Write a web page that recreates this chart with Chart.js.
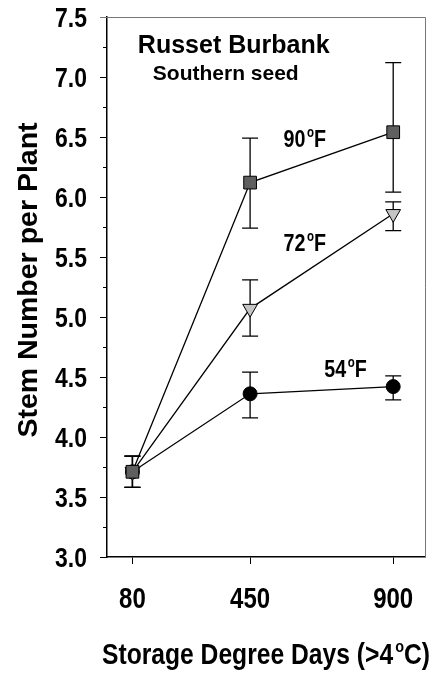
<!DOCTYPE html>
<html>
<head>
<meta charset="utf-8">
<script src="https://cdn.jsdelivr.net/npm/chart.js@4.4.0/dist/chart.umd.min.js"></script>
<style>
  html, body { margin: 0; padding: 0; background: #fff; }
  #wrap { width: 435px; height: 673px; }
</style>
</head>
<body>
<div id="wrap"><canvas id="chart"></canvas></div>
<script>
// storage degree days and mean stem number per plant
const degreeDays = [80, 450, 900];
const stems90 = [3.71, 6.12, 6.54];
const stems72 = [3.71, 5.07, 5.86];
const stems54 = [3.71, 4.36, 4.42];

// error bar ends
const low90 = [3.58, 5.74, 6.04];
const high90 = [3.84, 6.49, 7.12];
const low72 = [3.58, 4.84, 5.72];
const high72 = [3.84, 5.31, 5.96];
const low54 = [3.58, 4.16, 4.31];
const high54 = [3.84, 4.54, 4.51];

const xTicks = [80, 450, 900];

const SANS = "'Liberation Sans', Arial, sans-serif";
const SQUEEZE = 0.82; // no narrow face installed, so squeeze the bold sans

const isMajor = v => Math.abs(v * 2 - Math.round(v * 2)) < 1e-6;

// draws pieces of text side by side, squeezed horizontally
// piece = [text, size, raise]
function drawPieces(ctx, pieces, x, y, sx, align) {
  ctx.save();
  ctx.textAlign = 'left';
  ctx.textBaseline = 'alphabetic';
  const widths = pieces.map(([t, s]) => {
    ctx.font = `bold ${s}px ${SANS}`;
    return ctx.measureText(t).width;
  });
  const total = widths.reduce((a, b) => a + b, 0) * sx;
  const left = align === 'right' ? x - total : align === 'center' ? x - total / 2 : x;
  ctx.translate(left, y);
  ctx.scale(sx, 1);
  let cx = 0;
  pieces.forEach(([t, s, raise], i) => {
    ctx.font = `bold ${s}px ${SANS}`;
    ctx.fillText(t, cx, -(raise || 0));
    cx += widths[i];
  });
  ctx.restore();
}

function degPieces(before, after, size) {
  return [[before + '\u200a', size, 0], ['o', Math.round(size * 0.6), size * 0.43], [after, size, 0]];
}

const extras = {
  id: 'extras',
  beforeDatasetsDraw(chart) {
    const { ctx, scales: { x, y } } = chart;
    const sets = [[low54, high54], [low72, high72], [low90, high90]];
    ctx.save();
    ctx.strokeStyle = '#000';
    ctx.lineWidth = 1.3;
    sets.forEach(([lo, hi]) => {
      degreeDays.forEach((d, i) => {
        const px = x.getPixelForValue(d);
        const y1 = y.getPixelForValue(lo[i]);
        const y2 = y.getPixelForValue(hi[i]);
        ctx.beginPath();
        ctx.moveTo(px, y1); ctx.lineTo(px, y2);
        ctx.moveTo(px - 8, y1); ctx.lineTo(px + 8, y1);
        ctx.moveTo(px - 8, y2); ctx.lineTo(px + 8, y2);
        ctx.stroke();
      });
    });
    ctx.restore();
  },
  afterDraw(chart) {
    const { ctx, chartArea: a, scales: { x, y } } = chart;
    ctx.save();
    // top and right frame
    ctx.strokeStyle = '#777';
    ctx.lineWidth = 1;
    ctx.beginPath();
    ctx.moveTo(a.left - 7, a.top + 0.5); ctx.lineTo(a.right + 0.5, a.top + 0.5);
    ctx.lineTo(a.right + 0.5, a.bottom);
    ctx.stroke();
    // minor ticks on the y axis
    ctx.strokeStyle = '#000';
    ctx.beginPath();
    y.ticks.forEach(t => {
      if (!isMajor(t.value)) {
        const py = Math.round(y.getPixelForValue(t.value)) + 0.5;
        ctx.moveTo(a.left - 4, py); ctx.lineTo(a.left, py);
      }
    });
    ctx.stroke();
    ctx.fillStyle = '#000';

    // tick labels
    y.ticks.forEach(t => {
      if (isMajor(t.value)) {
        drawPieces(ctx, [[t.value.toFixed(1), 28, 0]], a.left - 20, y.getPixelForValue(t.value) + 10, SQUEEZE, 'right');
      }
    });
    x.ticks.forEach(t => {
      drawPieces(ctx, [[String(t.value), 30, 0]], x.getPixelForValue(t.value), a.bottom + 51, 0.8, 'center');
    });

    // axis titles
    drawPieces(ctx, degPieces('Storage Degree Days (>4', 'C)', 29), (a.left + a.right) / 2, a.bottom + 107, 0.85, 'center');
    ctx.save();
    ctx.translate(37, 280);
    ctx.rotate(-Math.PI / 2);
    drawPieces(ctx, [['Stem Number per Plant', 28.5, 0]], 0, 0, 1, 'center');
    ctx.restore();

    // labels inside the plot
    drawPieces(ctx, [['Russet Burbank', 25, 0]], x.getPixelForValue(97), y.getPixelForValue(7.2), 1, 'left');
    drawPieces(ctx, [['Southern seed', 21, 0]], x.getPixelForValue(144), y.getPixelForValue(6.975), 1, 'left');
    drawPieces(ctx, degPieces('90', 'F', 24), x.getPixelForValue(555), y.getPixelForValue(6.417), SQUEEZE, 'left');
    drawPieces(ctx, degPieces('72', 'F', 24), x.getPixelForValue(555), y.getPixelForValue(5.55), SQUEEZE, 'left');
    drawPieces(ctx, degPieces('54', 'F', 24), x.getPixelForValue(683), y.getPixelForValue(4.50), SQUEEZE, 'left');
    ctx.restore();
  }
};

new Chart(document.getElementById('chart'), {
  type: 'scatter',
  data: {
    datasets: [
      {
        label: '90°F',
        data: degreeDays.map((d, i) => ({ x: d, y: stems90[i] })),
        showLine: true,
        borderColor: '#000',
        borderWidth: 1.3,
        pointStyle: 'rect',
        pointRadius: 9,
        pointBackgroundColor: '#5f5f5f',
        pointBorderColor: '#000',
        pointBorderWidth: 1
      },
      {
        label: '72°F',
        data: degreeDays.map((d, i) => ({ x: d, y: stems72[i] })),
        showLine: true,
        borderColor: '#000',
        borderWidth: 1.3,
        pointStyle: 'triangle',
        rotation: 180,
        pointRadius: 8.5,
        pointBackgroundColor: '#c4c4c4',
        pointBorderColor: '#000',
        pointBorderWidth: 1
      },
      {
        label: '54°F',
        data: degreeDays.map((d, i) => ({ x: d, y: stems54[i] })),
        showLine: true,
        borderColor: '#000',
        borderWidth: 1.3,
        pointStyle: 'circle',
        pointRadius: 7,
        pointBackgroundColor: '#000',
        pointBorderColor: '#000',
        pointBorderWidth: 1
      }
    ]
  },
  options: {
    responsive: true,
    maintainAspectRatio: false,
    animation: false,
    layout: { padding: { top: 17, right: 9, left: 0, bottom: 0 } },
    plugins: {
      legend: { display: false },
      tooltip: { enabled: false }
    },
    scales: {
      x: {
        type: 'linear',
        min: 0,
        max: 1000,
        afterFit: s => { s.height = 116; s.paddingLeft = 0; s.paddingRight = 0; },
        afterBuildTicks: s => { s.ticks = xTicks.map(v => ({ value: v })); },
        border: { color: '#000', width: 1.5 },
        grid: { drawOnChartArea: false, tickLength: 7, color: '#000', tickWidth: 1 },
        ticks: { display: false }
      },
      y: {
        min: 3,
        max: 7.5,
        afterFit: s => { s.width = 107; s.paddingTop = 0; s.paddingBottom = 0; },
        border: { color: '#000', width: 1.5 },
        grid: {
          drawOnChartArea: false,
          tickLength: 7,
          tickWidth: 1,
          tickColor: c => (c.tick && isMajor(c.tick.value)) ? '#000' : 'rgba(0,0,0,0)'
        },
        ticks: { display: false, stepSize: 0.25, autoSkip: false }
      }
    }
  },
  plugins: [extras]
});
</script>
</body>
</html>
